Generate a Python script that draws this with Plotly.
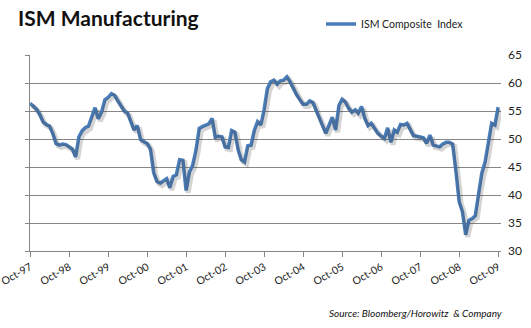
import pandas as pd
import plotly.graph_objects as go

# ISM Composite Index, monthly Oct-1997 .. Oct-2009
start_month = "1997-10-01"
ism_values = [
    56.4, 55.8, 55.3, 54.3, 53.0, 52.6, 52.3, 51.0, 49.2, 48.9, 49.1, 49.0,   # Oct97-Sep98
    48.6, 48.2, 46.8, 50.4, 51.5, 52.0, 52.3, 54.0, 55.6, 53.6, 54.8, 57.0,   # Oct98-Sep99
    57.4, 58.1, 57.8, 56.8, 55.8, 55.0, 54.6, 53.2, 51.6, 52.4, 49.9, 49.5,   # Oct99-Sep00
    49.2, 48.2, 44.0, 42.4, 42.1, 42.5, 42.9, 41.3, 43.3, 43.6, 46.3, 46.2,   # Oct00-Sep01
    40.8, 44.1, 45.3, 48.0, 51.9, 52.2, 52.4, 52.7, 53.7, 50.3, 50.5, 50.4,   # Oct01-Sep02
    48.6, 48.5, 51.5, 51.2, 48.0, 46.3, 45.9, 48.8, 48.9, 51.5, 53.1, 52.5,   # Oct02-Sep03
    55.2, 59.0, 60.2, 60.5, 59.8, 60.4, 60.5, 61.1, 60.2, 59.0, 57.9, 57.0,   # Oct03-Sep04
    56.2, 56.2, 56.8, 56.5, 55.0, 53.7, 52.3, 51.0, 52.5, 53.9, 51.6, 56.0,   # Oct04-Sep05
    57.1, 56.6, 55.5, 54.8, 55.2, 54.6, 55.8, 53.7, 52.4, 52.8, 51.9, 51.0,   # Oct05-Sep06
    50.5, 50.1, 52.0, 49.4, 51.6, 51.2, 52.6, 52.5, 52.8, 51.6, 50.6, 50.5,   # Oct06-Sep07
    50.4, 50.2, 49.2, 50.7, 48.9, 48.8, 48.6, 49.1, 49.4, 49.4, 49.1, 44.2,   # Oct07-Sep08
    38.8, 37.0, 32.9, 35.5, 35.8, 36.3, 40.6, 43.9, 45.9, 48.9, 52.8, 52.5,   # Oct08-Sep09
    55.7,                                                                     # Oct09
]
dates = pd.date_range(start_month, periods=len(ism_values), freq="MS")

y_min, y_max, y_step = 30, 65, 5
x_start, x_end = "1997-09-30", "2009-10-28"

title_text = "ISM Manufacturing"
series_name = "ISM Composite  Index"
source_text = "Source: Bloomberg/Horowitz  &amp; Company"

FONT = "Lato, Carlito, 'Open Sans', sans-serif"
BLUE = "#4A7EBB"
GRID = "#868686"

fig = go.Figure()

# soft drop shadow (same data drawn on slightly shifted axes)
fig.add_trace(go.Scatter(
    x=dates, y=ism_values, mode="lines", xaxis="x2", yaxis="y3",
    line=dict(color="rgba(60,60,60,0.22)", width=5, shape="linear"),
    hoverinfo="skip", showlegend=False,
))
# main series
fig.add_trace(go.Scatter(
    x=dates, y=ism_values, mode="lines", name=series_name,
    line=dict(color=BLUE, width=3.5), showlegend=True,
))
# invisible copy so the right-hand label axis is drawn
fig.add_trace(go.Scatter(
    x=dates, y=ism_values, mode="lines", yaxis="y2",
    line=dict(color="rgba(0,0,0,0)", width=0.1),
    hoverinfo="skip", showlegend=False,
))

fig.update_layout(
    width=531, height=328,
    margin=dict(l=30, r=30, t=55, b=77, autoexpand=False),
    paper_bgcolor="white", plot_bgcolor="white",
    font=dict(family=FONT, size=11, color="#222"),
    title=dict(text=title_text, x=18/531, xanchor="left", xref="container",
               y=1-19/328, yanchor="middle", yref="container",
               font=dict(family=FONT, size=21, color="#111", weight="bold")),
    xaxis=dict(type="date", range=[x_start, x_end], tick0="1997-10-01", dtick="M12",
               tickformat="%b-%y", tickangle=-30, showgrid=False, showline=True,
               linecolor=GRID, linewidth=1, ticks="outside", ticklen=5, tickcolor=GRID,
               zeroline=False, tickfont=dict(size=10.5, color="#222"),
               ticklabeloverflow="allow", automargin=False),
    xaxis2=dict(type="date", overlaying="x", visible=False,
                range=[pd.Timestamp(x_start) - pd.Timedelta(days=19),
                       pd.Timestamp(x_end) - pd.Timedelta(days=19)]),
    yaxis=dict(range=[y_min, y_max], dtick=y_step, showgrid=True, gridcolor=GRID,
               gridwidth=1, showline=True, linecolor=GRID, ticks="outside", ticklen=4,
               tickcolor=GRID, showticklabels=False, zeroline=False, automargin=False),
    yaxis2=dict(range=[y_min, y_max], dtick=y_step, overlaying="y", side="right",
                showgrid=False, showline=False, zeroline=False, ticks="",
                ticklabelstandoff=6, tickfont=dict(size=12, color="#222"),
                automargin=False),
    yaxis3=dict(range=[y_min + 0.4, y_max + 0.4], overlaying="y", visible=False),
    legend=dict(x=(321-30)/471, xanchor="left", y=(251-24)/196, yanchor="middle",
                bgcolor="rgba(0,0,0,0)", font=dict(size=10.5, color="#222"),
                itemwidth=30),
    annotations=[dict(text="<i>" + source_text + "</i>", xref="paper", yref="paper",
                      x=(504-30)/471, xanchor="right", y=(251-313)/196, yanchor="middle",
                      showarrow=False, font=dict(family=FONT, size=10, color="#111"))],
)

fig.write_html("out.html")
